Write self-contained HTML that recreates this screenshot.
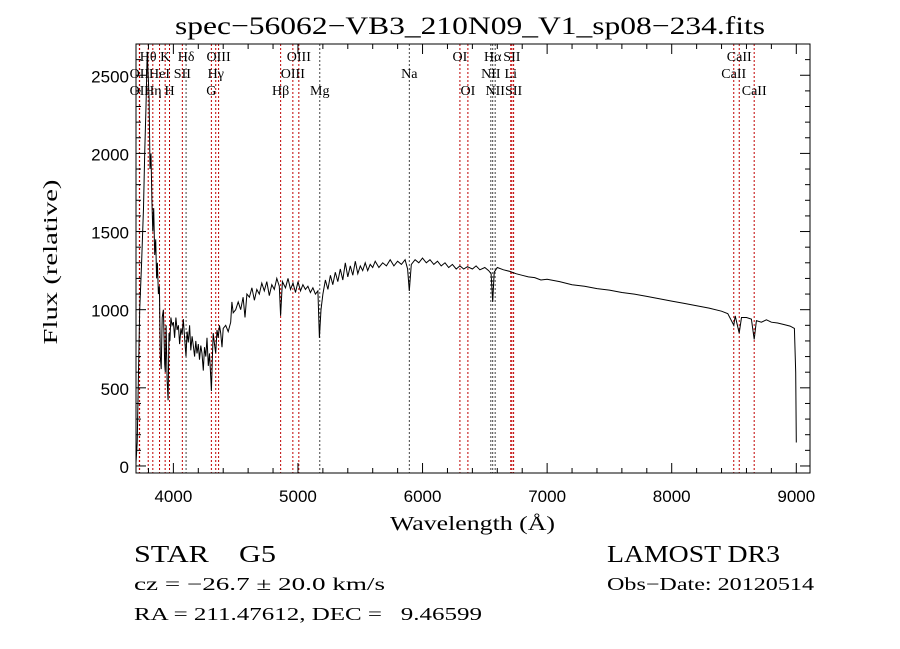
<!DOCTYPE html>
<html><head><meta charset="utf-8"><style>
html,body{margin:0;padding:0;background:#fff;}
svg{display:block;font-family:"Liberation Serif",serif;}
</style></head><body>
<svg id="chart" width="900" height="649" viewBox="0 0 900 649">
<rect x="0" y="0" width="900" height="649" fill="#fff"/>
<text x="175" y="34" font-size="25" textLength="590" lengthAdjust="spacingAndGlyphs">spec−56062−VB3_210N09_V1_sp08−234.fits</text>
<g id="lines"></g>
<g id="axes"></g>
<g id="series"></g>
<text x="390" y="530" font-size="20" textLength="165" lengthAdjust="spacingAndGlyphs">Wavelength (Å)</text>
<text transform="translate(57,262) rotate(-90)" text-anchor="middle" font-size="20" textLength="165" lengthAdjust="spacingAndGlyphs">Flux (relative)</text>
<text x="134" y="562" font-size="24" textLength="142" lengthAdjust="spacingAndGlyphs" xml:space="preserve">STAR    G5</text>
<text x="607" y="562" font-size="24" textLength="173" lengthAdjust="spacingAndGlyphs">LAMOST DR3</text>
<text x="134" y="590" font-size="18" textLength="251" lengthAdjust="spacingAndGlyphs">cz = −26.7 ± 20.0 km/s</text>
<text x="607" y="590" font-size="18" textLength="207" lengthAdjust="spacingAndGlyphs">Obs−Date: 20120514</text>
<text x="134" y="620" font-size="18" textLength="348" lengthAdjust="spacingAndGlyphs" xml:space="preserve">RA = 211.47612, DEC =   9.46599</text>
</svg>
<script>
const wavelengths=[3700,3710,3720,3730,3745,3760,3770,3780,3790,3798,3805,3812,3820,3828,3835,3842,3850,3858,3865,3872,3880,3888,3895,3902,3910,3920,3930,3935,3942,3950,3958,3965,3972,3980,3990,4000,4010,4020,4030,4040,4050,4060,4070,4080,4090,4101,4110,4120,4130,4140,4150,4160,4170,4180,4190,4200,4210,4220,4230,4240,4250,4260,4270,4280,4290,4300,4305,4312,4320,4330,4340,4350,4360,4370,4380,4390,4400,4420,4440,4460,4470,4480,4500,4520,4540,4560,4575,4590,4610,4630,4650,4670,4690,4710,4730,4750,4770,4790,4810,4830,4850,4861,4875,4900,4920,4940,4960,4980,5000,5020,5040,5060,5080,5100,5120,5140,5160,5172,5185,5200,5220,5240,5260,5280,5300,5320,5340,5360,5380,5400,5420,5440,5460,5480,5500,5520,5540,5560,5580,5600,5620,5650,5680,5710,5740,5770,5800,5830,5860,5880,5894,5910,5940,5970,6000,6030,6060,6090,6120,6150,6180,6210,6240,6270,6300,6330,6360,6400,6430,6460,6500,6530,6550,6563,6575,6600,6650,6700,6750,6800,6850,6900,6950,7000,7100,7200,7300,7400,7500,7600,7700,7800,7900,8000,8100,8200,8300,8400,8450,8498,8510,8542,8560,8600,8640,8662,8680,8720,8760,8800,8850,8900,8950,8985,8995,9000];
const fluxes=[20,150,600,1000,1300,1650,2000,2300,2650,2500,2350,1900,2000,1700,1500,1650,1350,1450,1200,1300,1100,1150,700,620,950,1000,650,600,900,550,420,850,800,950,900,920,820,950,870,900,780,880,840,940,820,700,860,790,900,740,830,770,700,800,720,780,680,770,720,610,760,700,820,640,720,560,480,660,850,780,720,870,820,900,850,760,880,900,860,920,1050,980,1000,1050,1000,1080,950,1100,1080,1140,1060,1130,1100,1170,1120,1180,1090,1160,1130,1200,1150,960,1180,1140,1200,1130,1170,1110,1180,1120,1160,1130,1150,1110,1140,1100,1120,820,1000,1100,1190,1130,1220,1160,1240,1180,1260,1190,1300,1210,1280,1220,1310,1230,1280,1250,1300,1250,1290,1270,1310,1270,1300,1280,1320,1280,1310,1290,1320,1260,1120,1290,1320,1300,1330,1300,1320,1290,1310,1280,1300,1270,1290,1260,1280,1260,1275,1260,1280,1255,1270,1250,1230,1050,1240,1270,1255,1245,1230,1220,1210,1205,1190,1195,1180,1160,1150,1135,1125,1110,1100,1085,1070,1055,1040,1025,1010,990,975,900,960,850,950,950,940,810,930,920,935,920,915,905,895,880,600,150];
const xTicks=[4000,5000,6000,7000,8000,9000];
const yTicks=[0,500,1000,1500,2000,2500];
const lineWaves=[3727,3729,3798,3835,3889,3934,3969,4072,4102,4305,4340,4363,4861,4959,5007,5175,5894,6300,6364,6548,6563,6583,6708,6717,6731,8498,8542,8662];
const lineDark=[0,0,0,0,0,0,0,0,1,0,0,0,0,0,0,1,1,0,0,1,1,1,0,0,0,0,0,0];
const labelText=["Hθ","K","Hδ","OIII","OIII","OI","Hα","SII","CaII","OII","HeI","SII","Hγ","OIII","Na","NII","Li","CaII","OII","Hη","H","G","Hβ","Mg","OI","NII","SII","CaII"];
const labelWave=[3798,3934,4102,4363,5007,6300,6563,6717,8542,3727,3889,4072,4340,4959,5894,6548,6708,8498,3727,3835,3969,4305,4861,5175,6364,6583,6731,8662];
const labelRow=[0,0,0,0,0,0,0,0,0,1,1,1,1,1,1,1,1,1,2,2,2,2,2,2,2,2,2,2];

const X0=136,X1=810,Y0=44,Y1=473,WMIN=3700,WMAX=9110,FMIN=-45,FMAX=2700;
const sx=w=>X0+(w-WMIN)/(WMAX-WMIN)*(X1-X0);
const sy=f=>Y1-(f-FMIN)/(FMAX-FMIN)*(Y1-Y0);
const NS="http://www.w3.org/2000/svg";
function mk(tag,attrs,parent){const e=document.createElementNS(NS,tag);for(const k in attrs)e.setAttribute(k,attrs[k]);parent.appendChild(e);return e;}
const gl=document.getElementById('lines'),ga=document.getElementById('axes'),gs=document.getElementById('series');

lineWaves.forEach((w,i)=>{
  const l=mk('line',{x1:sx(w),x2:sx(w),y1:Y0,y2:Y1,stroke:lineDark[i]?'#444':'#c00000','stroke-width':1,'stroke-dasharray':'2,2'},gl);
  
  
});
labelText.forEach((t,i)=>{
  const e=mk('text',{x:sx(labelWave[i]),y:61+labelRow[i]*17,'text-anchor':'middle','font-size':14},gl);
  e.textContent=t;
  
  
});

const frame=mk('rect',{x:X0,y:Y0,width:X1-X0,height:Y1-Y0,fill:'none',stroke:'#000','stroke-width':1},ga);


for(let w=3800;w<=9100;w+=200){
  const maj=w%1000===0,L=maj?10:5;
  mk('line',{x1:sx(w),x2:sx(w),y1:Y1,y2:Y1-L,stroke:'#000'},ga);
  mk('line',{x1:sx(w),x2:sx(w),y1:Y0,y2:Y0+L,stroke:'#000'},ga);
}
for(let f=0;f<=2700;f+=100){
  const maj=f%500===0,L=maj?10:5;
  mk('line',{x1:X0,x2:X0+L,y1:sy(f),y2:sy(f),stroke:'#000'},ga);
  mk('line',{x1:X1,x2:X1-L,y1:sy(f),y2:sy(f),stroke:'#000'},ga);
}
xTicks.forEach(v=>{
  const t=mk('text',{x:sx(v),y:502,'text-anchor':'middle','font-size':17,'font-family':'Liberation Sans, sans-serif'},ga);
  t.textContent=v;
  
  
});
yTicks.forEach(v=>{
  const t=mk('text',{x:129,y:sy(v)+7,'text-anchor':'end','font-size':17,'font-family':'Liberation Sans, sans-serif'},ga);
  t.textContent=v;
  
  
});

const pts=wavelengths.map((w,i)=>sx(w).toFixed(1)+','+sy(fluxes[i]).toFixed(1)).join(' ');
const pl=mk('polyline',{points:pts,fill:'none',stroke:'#000','stroke-width':1,'stroke-linejoin':'miter'},gs);


</script>
</body></html>
